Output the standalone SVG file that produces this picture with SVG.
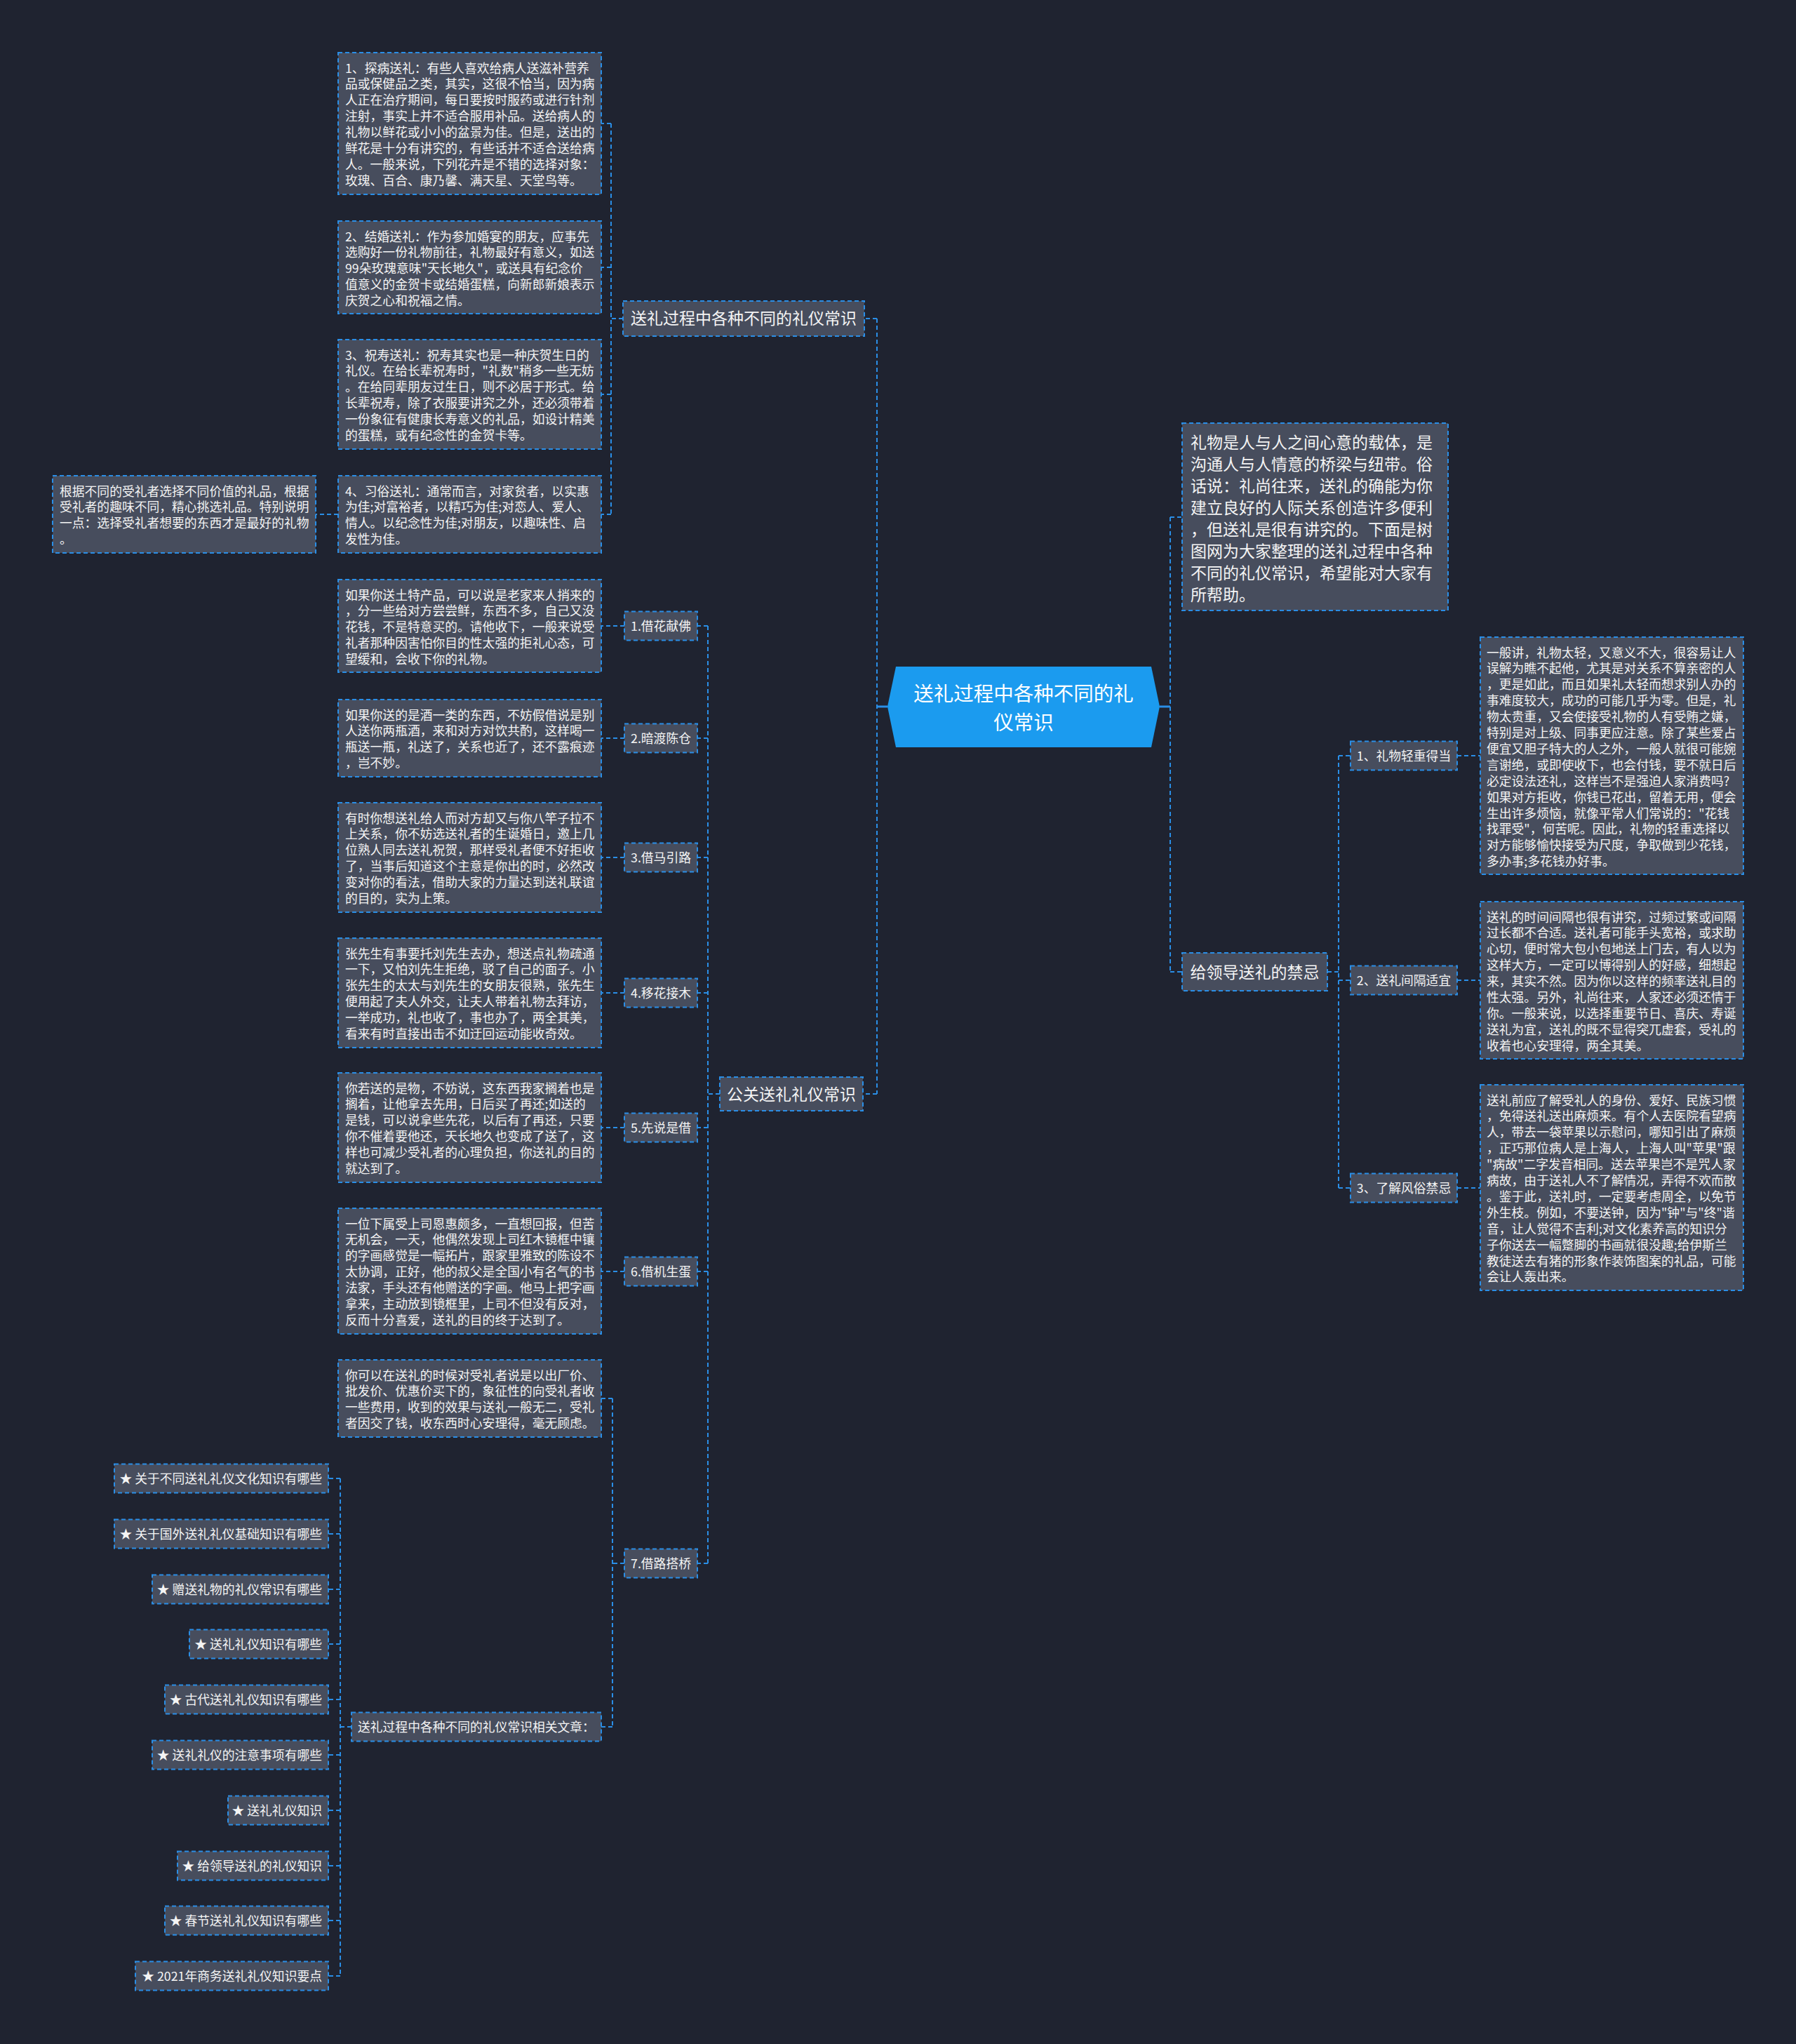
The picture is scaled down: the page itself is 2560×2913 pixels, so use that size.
<svg xmlns="http://www.w3.org/2000/svg" width="2560" height="2913" viewBox="0 0 2560 2913">
<defs>
<style>
.bg{fill:#1f2330}
.box{fill:#474d5d;stroke:#2a8ee6;stroke-width:2;stroke-dasharray:6 4}
.con{fill:none;stroke:#2a8ee6;stroke-width:2;stroke-dasharray:6 4}
.solid{fill:none;stroke:#2a8ee6;stroke-width:3}
.t{font-family:"Noto Sans CJK SC","Microsoft YaHei","Liberation Sans",sans-serif;fill:#f4f4f4;font-size:17.8px}
.tl{font-family:"Noto Sans CJK SC","Microsoft YaHei","Liberation Sans",sans-serif;fill:#f4f4f4;font-size:23px}
.tc{font-family:"Noto Sans CJK SC","Microsoft YaHei","Liberation Sans",sans-serif;fill:#ffffff;font-size:28.5px}
.mid{text-anchor:middle}
.end{text-anchor:end}
</style>
</defs>
<rect class="bg" x="0" y="0" width="2560" height="2913"/>

<g id="connectors">
<path class="solid" d="M1265,1007 H1250"/>
<path class="con" d="M1250,454 V1559 M1250,454 H1232 M1250,1559 H1230"/>
<path class="con" d="M888,454 H871 M871,176 V733 M871,176 H857 M871,381 H857 M871,562 H857 M871,733 H857"/>
<path class="con" d="M482,733 H450"/>
<path class="con" d="M1026,1559 H1009 M1009,892 V2228 M1009,892 H994 M1009,1052 H994 M1009,1222 H994 M1009,1415 H994 M1009,1607 H994 M1009,1812 H994 M1009,2228 H994"/>
<path class="con" d="M890,892 H857 M890,1052 H857 M890,1222 H857 M890,1415 H857 M890,1607 H857 M890,1812 H857"/>
<path class="con" d="M890,2228 H873 M873,1993 V2461 M873,1993 H857 M873,2461 H857"/>
<path class="con" d="M501,2461 H485 M485,2107 V2816 M485,2107 H468 M485,2186 H468 M485,2265 H468 M485,2343 H468 M485,2422 H468 M485,2501 H468 M485,2580 H468 M485,2659 H468 M485,2737 H468 M485,2816 H468"/>
<path class="solid" d="M1653,1007 H1668"/>
<path class="con" d="M1668,737 V1385 M1668,737 H1685 M1668,1385 H1685"/>
<path class="con" d="M1892,1385 H1908 M1908,1077 V1693 M1908,1077 H1925 M1908,1397 H1925 M1908,1693 H1925"/>
<path class="con" d="M2077,1077 H2110 M2077,1397 H2110 M2077,1693 H2110"/>
</g>

<g id="center">
<polygon points="1277,950 1641,950 1653,1007 1641,1065 1277,1065 1265,1007" fill="#1b9bef"/>
<text class="tc mid" x="1459" y="998.5"><tspan x="1459">送礼过程中各种不同的礼</tspan><tspan x="1459" dy="41.5">仪常识</tspan></text>
</g>

<g id="branch1">
<rect class="box" x="888" y="429" width="344" height="50"/>
<text class="tl mid" x="1060" y="462">送礼过程中各种不同的礼仪常识</text>
</g>

<g id="b1-box1">
<rect class="box" x="482" y="75" width="375" height="202"/>
<text class="t" x="492" y="103.5"><tspan x="492">1、探病送礼：有些人喜欢给病人送滋补营养</tspan><tspan x="492" dy="22.9">品或保健品之类，其实，这很不恰当，因为病</tspan><tspan x="492" dy="22.9">人正在治疗期间，每日要按时服药或进行针剂</tspan><tspan x="492" dy="22.9">注射，事实上并不适合服用补品。送给病人的</tspan><tspan x="492" dy="22.9">礼物以鲜花或小小的盆景为佳。但是，送出的</tspan><tspan x="492" dy="22.9">鲜花是十分有讲究的，有些话并不适合送给病</tspan><tspan x="492" dy="22.9">人。一般来说，下列花卉是不错的选择对象：</tspan><tspan x="492" dy="22.9">玫瑰、百合、康乃馨、满天星、天堂鸟等。</tspan></text>
</g>

<g id="b1-box2">
<rect class="box" x="482" y="315" width="375" height="132"/>
<text class="t" x="492" y="343.5"><tspan x="492">2、结婚送礼：作为参加婚宴的朋友，应事先</tspan><tspan x="492" dy="22.9">选购好一份礼物前往，礼物最好有意义，如送</tspan><tspan x="492" dy="22.9">99朵玫瑰意味"天长地久"，或送具有纪念价</tspan><tspan x="492" dy="22.9">值意义的金贺卡或结婚蛋糕，向新郎新娘表示</tspan><tspan x="492" dy="22.9">庆贺之心和祝福之情。</tspan></text>
</g>

<g id="b1-box3">
<rect class="box" x="482" y="484" width="375" height="156"/>
<text class="t" x="492" y="512.5"><tspan x="492">3、祝寿送礼：祝寿其实也是一种庆贺生日的</tspan><tspan x="492" dy="22.9">礼仪。在给长辈祝寿时，"礼数"稍多一些无妨</tspan><tspan x="492" dy="22.9">。在给同辈朋友过生日，则不必居于形式。给</tspan><tspan x="492" dy="22.9">长辈祝寿，除了衣服要讲究之外，还必须带着</tspan><tspan x="492" dy="22.9">一份象征有健康长寿意义的礼品，如设计精美</tspan><tspan x="492" dy="22.9">的蛋糕，或有纪念性的金贺卡等。</tspan></text>
</g>

<g id="b1-box4">
<rect class="box" x="482" y="678" width="375" height="110"/>
<text class="t" x="492" y="706.5"><tspan x="492">4、习俗送礼：通常而言，对家贫者，以实惠</tspan><tspan x="492" dy="22.9">为佳;对富裕者，以精巧为佳;对恋人、爱人、</tspan><tspan x="492" dy="22.9">情人。以纪念性为佳;对朋友，以趣味性、启</tspan><tspan x="492" dy="22.9">发性为佳。</tspan></text>
</g>

<g id="b1-farleft">
<rect class="box" x="75" y="678" width="375" height="110"/>
<text class="t" x="85" y="706.5"><tspan x="85">根据不同的受礼者选择不同价值的礼品，根据</tspan><tspan x="85" dy="22.9">受礼者的趣味不同，精心挑选礼品。特别说明</tspan><tspan x="85" dy="22.9">一点：选择受礼者想要的东西才是最好的礼物</tspan><tspan x="85" dy="22.9">。</tspan></text>
</g>

<g id="branch2">
<rect class="box" x="1026" y="1535" width="204" height="48"/>
<text class="tl mid" x="1128" y="1567.5">公关送礼礼仪常识</text>
</g>

<g id="l1">
<rect class="box" x="890" y="871.5" width="104" height="41"/>
<text class="t mid" x="942" y="898.5">1.借花献佛</text>
</g>
<g id="l1-text">
<rect class="box" x="482" y="826" width="375" height="132"/>
<text class="t" x="492" y="854.5"><tspan x="492">如果你送土特产品，可以说是老家来人捎来的</tspan><tspan x="492" dy="22.9">，分一些给对方尝尝鲜，东西不多，自己又没</tspan><tspan x="492" dy="22.9">花钱，不是特意买的。请他收下，一般来说受</tspan><tspan x="492" dy="22.9">礼者那种因害怕你目的性太强的拒礼心态，可</tspan><tspan x="492" dy="22.9">望缓和，会收下你的礼物。</tspan></text>
</g>

<g id="l2">
<rect class="box" x="890" y="1031.5" width="104" height="41"/>
<text class="t mid" x="942" y="1058.5">2.暗渡陈仓</text>
</g>
<g id="l2-text">
<rect class="box" x="482" y="997" width="375" height="110"/>
<text class="t" x="492" y="1025.5"><tspan x="492">如果你送的是酒一类的东西，不妨假借说是别</tspan><tspan x="492" dy="22.9">人送你两瓶酒，来和对方对饮共酌，这样喝一</tspan><tspan x="492" dy="22.9">瓶送一瓶，礼送了，关系也近了，还不露痕迹</tspan><tspan x="492" dy="22.9">，岂不妙。</tspan></text>
</g>

<g id="l3">
<rect class="box" x="890" y="1201.5" width="104" height="41"/>
<text class="t mid" x="942" y="1228.5">3.借马引路</text>
</g>
<g id="l3-text">
<rect class="box" x="482" y="1144" width="375" height="156"/>
<text class="t" x="492" y="1172.5"><tspan x="492">有时你想送礼给人而对方却又与你八竿子拉不</tspan><tspan x="492" dy="22.9">上关系，你不妨选送礼者的生诞婚日，邀上几</tspan><tspan x="492" dy="22.9">位熟人同去送礼祝贺，那样受礼者便不好拒收</tspan><tspan x="492" dy="22.9">了，当事后知道这个主意是你出的时，必然改</tspan><tspan x="492" dy="22.9">变对你的看法，借助大家的力量达到送礼联谊</tspan><tspan x="492" dy="22.9">的目的，实为上策。</tspan></text>
</g>

<g id="l4">
<rect class="box" x="890" y="1394.5" width="104" height="41"/>
<text class="t mid" x="942" y="1421.5">4.移花接木</text>
</g>
<g id="l4-text">
<rect class="box" x="482" y="1337" width="375" height="156"/>
<text class="t" x="492" y="1365.5"><tspan x="492">张先生有事要托刘先生去办，想送点礼物疏通</tspan><tspan x="492" dy="22.9">一下，又怕刘先生拒绝，驳了自己的面子。小</tspan><tspan x="492" dy="22.9">张先生的太太与刘先生的女朋友很熟，张先生</tspan><tspan x="492" dy="22.9">便用起了夫人外交，让夫人带着礼物去拜访，</tspan><tspan x="492" dy="22.9">一举成功，礼也收了，事也办了，两全其美，</tspan><tspan x="492" dy="22.9">看来有时直接出击不如迂回运动能收奇效。</tspan></text>
</g>

<g id="l5">
<rect class="box" x="890" y="1586.5" width="104" height="41"/>
<text class="t mid" x="942" y="1613.5">5.先说是借</text>
</g>
<g id="l5-text">
<rect class="box" x="482" y="1529" width="375" height="156"/>
<text class="t" x="492" y="1557.5"><tspan x="492">你若送的是物，不妨说，这东西我家搁着也是</tspan><tspan x="492" dy="22.9">搁着，让他拿去先用，日后买了再还;如送的</tspan><tspan x="492" dy="22.9">是钱，可以说拿些先花，以后有了再还，只要</tspan><tspan x="492" dy="22.9">你不催着要他还，天长地久也变成了送了，这</tspan><tspan x="492" dy="22.9">样也可减少受礼者的心理负担，你送礼的目的</tspan><tspan x="492" dy="22.9">就达到了。</tspan></text>
</g>

<g id="l6">
<rect class="box" x="890" y="1791.5" width="104" height="41"/>
<text class="t mid" x="942" y="1818.5">6.借机生蛋</text>
</g>
<g id="l6-text">
<rect class="box" x="482" y="1722" width="375" height="179"/>
<text class="t" x="492" y="1750.5"><tspan x="492">一位下属受上司恩惠颇多，一直想回报，但苦</tspan><tspan x="492" dy="22.9">无机会，一天，他偶然发现上司红木镜框中镶</tspan><tspan x="492" dy="22.9">的字画感觉是一幅拓片，跟家里雅致的陈设不</tspan><tspan x="492" dy="22.9">太协调，正好，他的叔父是全国小有名气的书</tspan><tspan x="492" dy="22.9">法家，手头还有他赠送的字画。他马上把字画</tspan><tspan x="492" dy="22.9">拿来，主动放到镜框里，上司不但没有反对，</tspan><tspan x="492" dy="22.9">反而十分喜爱，送礼的目的终于达到了。</tspan></text>
</g>

<g id="l7">
<rect class="box" x="890" y="2207.5" width="104" height="41"/>
<text class="t mid" x="942" y="2234.5">7.借路搭桥</text>
</g>
<g id="l7-text">
<rect class="box" x="482" y="1938" width="375" height="110"/>
<text class="t" x="492" y="1966.5"><tspan x="492">你可以在送礼的时候对受礼者说是以出厂价、</tspan><tspan x="492" dy="22.9">批发价、优惠价买下的，象征性的向受礼者收</tspan><tspan x="492" dy="22.9">一些费用，收到的效果与送礼一般无二，受礼</tspan><tspan x="492" dy="22.9">者因交了钱，收东西时心安理得，毫无顾虑。</tspan></text>
</g>

<g id="related">
<rect class="box" x="501" y="2440.5" width="356" height="41"/>
<text class="t" x="510" y="2467.5">送礼过程中各种不同的礼仪常识相关文章：</text>
</g>

<g id="a1"><rect class="box" x="163" y="2086.5" width="305" height="41"/><text class="t end" x="459" y="2113.5">★ 关于不同送礼礼仪文化知识有哪些</text></g>
<g id="a2"><rect class="box" x="163" y="2165.5" width="305" height="41"/><text class="t end" x="459" y="2192.5">★ 关于国外送礼礼仪基础知识有哪些</text></g>
<g id="a3"><rect class="box" x="217" y="2244.5" width="251" height="41"/><text class="t end" x="459" y="2271.5">★ 赠送礼物的礼仪常识有哪些</text></g>
<g id="a4"><rect class="box" x="270" y="2322.5" width="198" height="41"/><text class="t end" x="459" y="2349.5">★ 送礼礼仪知识有哪些</text></g>
<g id="a5"><rect class="box" x="235" y="2401.5" width="233" height="41"/><text class="t end" x="459" y="2428.5">★ 古代送礼礼仪知识有哪些</text></g>
<g id="a6"><rect class="box" x="217" y="2480.5" width="251" height="41"/><text class="t end" x="459" y="2507.5">★ 送礼礼仪的注意事项有哪些</text></g>
<g id="a7"><rect class="box" x="325" y="2559.5" width="143" height="41"/><text class="t end" x="459" y="2586.5">★ 送礼礼仪知识</text></g>
<g id="a8"><rect class="box" x="253" y="2638.5" width="215" height="41"/><text class="t end" x="459" y="2665.5">★ 给领导送礼的礼仪知识</text></g>
<g id="a9"><rect class="box" x="235" y="2716.5" width="233" height="41"/><text class="t end" x="459" y="2743.5">★ 春节送礼礼仪知识有哪些</text></g>
<g id="a10"><rect class="box" x="193" y="2795.5" width="275" height="41"/><text class="t end" x="459" y="2822.5">★ 2021年商务送礼礼仪知识要点</text></g>

<g id="intro">
<rect class="box" x="1685" y="603" width="379" height="267"/>
<text class="tl" x="1697" y="638.5"><tspan x="1697">礼物是人与人之间心意的载体，是</tspan><tspan x="1697" dy="31">沟通人与人情意的桥梁与纽带。俗</tspan><tspan x="1697" dy="31">话说：礼尚往来，送礼的确能为你</tspan><tspan x="1697" dy="31">建立良好的人际关系创造许多便利</tspan><tspan x="1697" dy="31">，但送礼是很有讲究的。下面是树</tspan><tspan x="1697" dy="31">图网为大家整理的送礼过程中各种</tspan><tspan x="1697" dy="31">不同的礼仪常识，希望能对大家有</tspan><tspan x="1697" dy="31">所帮助。</tspan></text>
</g>

<g id="branch3">
<rect class="box" x="1685" y="1358" width="207" height="54"/>
<text class="tl mid" x="1788.5" y="1393.5">给领导送礼的禁忌</text>
</g>

<g id="r1">
<rect class="box" x="1925" y="1056.5" width="152" height="41"/>
<text class="t mid" x="2001" y="1083.5">1、礼物轻重得当</text>
</g>
<g id="r1-text">
<rect class="box" x="2110" y="908" width="375" height="338"/>
<text class="t" x="2119" y="936.5"><tspan x="2119">一般讲，礼物太轻，又意义不大，很容易让人</tspan><tspan x="2119" dy="22.9">误解为瞧不起他，尤其是对关系不算亲密的人</tspan><tspan x="2119" dy="22.9">，更是如此，而且如果礼太轻而想求别人办的</tspan><tspan x="2119" dy="22.9">事难度较大，成功的可能几乎为零。但是，礼</tspan><tspan x="2119" dy="22.9">物太贵重，又会使接受礼物的人有受贿之嫌，</tspan><tspan x="2119" dy="22.9">特别是对上级、同事更应注意。除了某些爱占</tspan><tspan x="2119" dy="22.9">便宜又胆子特大的人之外，一般人就很可能婉</tspan><tspan x="2119" dy="22.9">言谢绝，或即使收下，也会付钱，要不就日后</tspan><tspan x="2119" dy="22.9">必定设法还礼，这样岂不是强迫人家消费吗?</tspan><tspan x="2119" dy="22.9">如果对方拒收，你钱已花出，留着无用，便会</tspan><tspan x="2119" dy="22.9">生出许多烦恼，就像平常人们常说的："花钱</tspan><tspan x="2119" dy="22.9">找罪受"，何苦呢。因此，礼物的轻重选择以</tspan><tspan x="2119" dy="22.9">对方能够愉快接受为尺度，争取做到少花钱，</tspan><tspan x="2119" dy="22.9">多办事;多花钱办好事。</tspan></text>
</g>

<g id="r2">
<rect class="box" x="1925" y="1376.5" width="152" height="41"/>
<text class="t mid" x="2001" y="1403.5">2、送礼间隔适宜</text>
</g>
<g id="r2-text">
<rect class="box" x="2110" y="1285" width="375" height="224"/>
<text class="t" x="2119" y="1313.5"><tspan x="2119">送礼的时间间隔也很有讲究，过频过繁或间隔</tspan><tspan x="2119" dy="22.9">过长都不合适。送礼者可能手头宽裕，或求助</tspan><tspan x="2119" dy="22.9">心切，便时常大包小包地送上门去，有人以为</tspan><tspan x="2119" dy="22.9">这样大方，一定可以博得别人的好感，细想起</tspan><tspan x="2119" dy="22.9">来，其实不然。因为你以这样的频率送礼目的</tspan><tspan x="2119" dy="22.9">性太强。另外，礼尚往来，人家还必须还情于</tspan><tspan x="2119" dy="22.9">你。一般来说，以选择重要节日、喜庆、寿诞</tspan><tspan x="2119" dy="22.9">送礼为宜，送礼的既不显得突兀虚套，受礼的</tspan><tspan x="2119" dy="22.9">收着也心安理得，两全其美。</tspan></text>
</g>

<g id="r3">
<rect class="box" x="1925" y="1672.5" width="152" height="41"/>
<text class="t mid" x="2001" y="1699.5">3、了解风俗禁忌</text>
</g>
<g id="r3-text">
<rect class="box" x="2110" y="1546" width="375" height="293"/>
<text class="t" x="2119" y="1574.5"><tspan x="2119">送礼前应了解受礼人的身份、爱好、民族习惯</tspan><tspan x="2119" dy="22.9">，免得送礼送出麻烦来。有个人去医院看望病</tspan><tspan x="2119" dy="22.9">人，带去一袋苹果以示慰问，哪知引出了麻烦</tspan><tspan x="2119" dy="22.9">，正巧那位病人是上海人，上海人叫"苹果"跟</tspan><tspan x="2119" dy="22.9">"病故"二字发音相同。送去苹果岂不是咒人家</tspan><tspan x="2119" dy="22.9">病故，由于送礼人不了解情况，弄得不欢而散</tspan><tspan x="2119" dy="22.9">。鉴于此，送礼时，一定要考虑周全，以免节</tspan><tspan x="2119" dy="22.9">外生枝。例如，不要送钟，因为"钟"与"终"谐</tspan><tspan x="2119" dy="22.9">音，让人觉得不吉利;对文化素养高的知识分</tspan><tspan x="2119" dy="22.9">子你送去一幅蹩脚的书画就很没趣;给伊斯兰</tspan><tspan x="2119" dy="22.9">教徒送去有猪的形象作装饰图案的礼品，可能</tspan><tspan x="2119" dy="22.9">会让人轰出来。</tspan></text>
</g>
</svg>
